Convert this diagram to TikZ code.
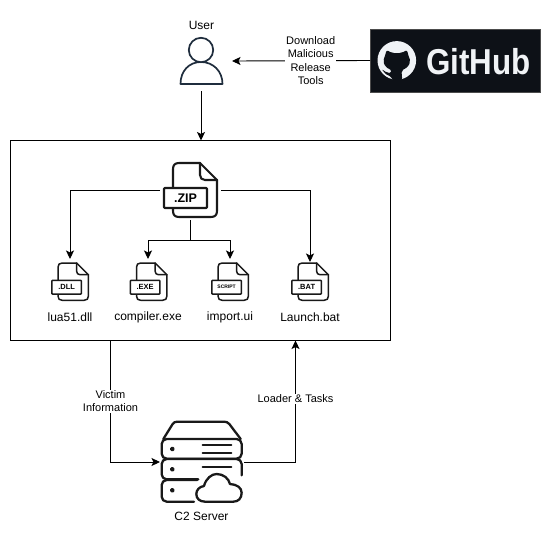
\documentclass[tikz,border=0pt]{standalone}
\usepackage{fontspec}
\setmainfont{Liberation Sans}
\usetikzlibrary{arrows.meta}
\definecolor{ghdark}{HTML}{0D1117}
\definecolor{ghlight}{HTML}{F0F3F6}
\definecolor{usercol}{HTML}{1F2D3D}
\tikzset{
  x=1pt,y=-1pt,
  conn/.style={draw=black,line width=0.9pt,-{Stealth[length=8.5pt,width=8pt,inset=2pt]}},
  lbl/.style={font=\fontsize{12}{14}\selectfont,inner sep=0pt,align=center},
  edgelbl/.style={font=\fontsize{11}{13.4}\selectfont,fill=white,inner sep=1pt,align=center},
  anchorbox/.style={inner sep=0pt,outer sep=0pt},
  iconline/.style={draw=black!90,line join=round,line cap=round},
}
% #1 x, #2 y, #3 scale, #4 line width, #5 label font, #6 label
\newcommand{\fileicon}[6]{%
  \begin{scope}[shift={(#1,#2)},scale=#3]
    \draw[iconline,line width=#4] (0,25) -- (0,6) .. controls (0,2) and (2,0) .. (6,0) -- (27,0) -- (44,17) -- (44,48)
      .. controls (44,52) and (42,54) .. (38,54) -- (6,54) .. controls (2,54) and (0,52) .. (0,48) -- (0,45);
    \draw[iconline,line width=#4] (27,0) -- (27,12) .. controls (27,15) and (29,17) .. (32,17) -- (44,17);
    \draw[iconline,line width=#4,fill=white,rounded corners=0.8pt] (-9,25) rectangle (34,45);
    \node[inner sep=0pt,font=#5] at (12.5,35) {#6};
  \end{scope}}
\begin{document}
\begin{tikzpicture}
\useasboundingbox (0,0) rectangle (551,533);
\fill[white] (0,0) rectangle (551,533);

% container
\node[anchorbox,draw=black,line width=0.9pt,minimum width=380pt,minimum height=200pt] (box) at (200.5,240.5) {};

% invisible named extents of the icons
\node[anchorbox,minimum width=62pt,minimum height=60pt] (user) at (201,61) {};
\node[anchorbox,minimum width=170.5pt,minimum height=63pt,fill=ghdark,draw=black!70!white,line width=0.7pt] (github) at (455.3,60.5) {};
\node[anchorbox,minimum width=61pt,minimum height=60pt] (zip) at (190.5,190) {};
\node[anchorbox,minimum width=36pt,minimum height=42pt,anchor=north] (dll) at (70,259) {};
\node[anchorbox,minimum width=36pt,minimum height=42pt,anchor=north] (exe) at (148,259) {};
\node[anchorbox,minimum width=36pt,minimum height=42pt,anchor=north] (script) at (230,259) {};
\node[anchorbox,minimum width=36pt,minimum height=40pt,anchor=north] (bat) at (310,262) {};
\node[anchorbox,minimum width=84pt,minimum height=84pt] (server) at (202,462) {};

% user
\draw[usercol,line width=1.7pt,line join=round] (180.5,84) .. controls (180.5,71) and (189,62) .. (201,62) .. controls (213,62) and (222.5,71) .. (222.5,84) -- cycle;
\draw[usercol,line width=1.7pt,fill=white] (201,50) circle (12.2);
\node[lbl] (userlbl) at (201.5,25.5) {User};

% github logo
\fill[ghlight] (396.8,60.4) circle (19.3);
\fill[ghdark,rounded corners=2pt] (386.5,50) -- (392,53) -- (401.5,53) -- (407,50) -- (408.5,56) -- (410.5,61) -- (408,67)
  -- (401.5,70.5) -- (402.2,80) -- (391.5,80) -- (391.5,76) -- (387,75.5) -- (381.5,69) -- (387,72.8) -- (391.5,73)
  -- (392,70.5) -- (385.5,67) -- (383,61) -- (385,56) -- cycle;
\node[inner sep=0pt,text=ghlight,font=\fontsize{36}{36}\selectfont\bfseries,xscale=0.87,transform shape] (ghtext) at (478.5,61.5) {GitHub};

% connectors
\draw[conn] (github.west) -- node[edgelbl,pos=0.43] (dlbl) {Download\\Malicious\\Release\\Tools} (user.east);
\draw[conn] (user.south) -- (box.north -| user.south);
\draw[conn] (zip.west) -| (dll.north);
\draw[conn] (zip.east) -| (bat.north);
\coordinate (split) at (zip.south |- 0,240);
\draw[line width=0.9pt] (zip.south) -- (split);
\draw[conn] (split) -| (exe.north);
\draw[conn] (split) -| (script.north);
\coordinate (boxout) at (110.5,340.5);
\coordinate (boxin) at (295.5,340.5);
\draw[conn] (boxout) |- node[edgelbl,pos=0.25] (vlbl) {Victim\\Information} (server.west);
\draw[conn] (server.east) -| node[edgelbl,pos=0.76,fill=white] (llbl) {Loader \& Tasks} (boxin);

% zip and files
\fileicon{173}{163}{1}{2.1pt}{\fontsize{12.5}{12.5}\selectfont\bfseries}{.ZIP}
\fileicon{58}{263}{0.69}{1.5pt}{\fontsize{7.5}{7.5}\selectfont\bfseries}{.DLL}
\fileicon{136.5}{263}{0.69}{1.5pt}{\fontsize{7.5}{7.5}\selectfont\bfseries}{.EXE}
\fileicon{218}{263}{0.69}{1.5pt}{\fontsize{5}{5}\selectfont\bfseries}{SCRIPT}
\fileicon{298}{263}{0.69}{1.5pt}{\fontsize{7.5}{7.5}\selectfont\bfseries}{.BAT}
\node[lbl] (l1) at (70,317) {lua51.dll};
\node[lbl] (l2) at (148,317) {compiler.exe};
\node[lbl] (l3) at (230,317) {import.ui};
\node[lbl] (l4) at (310,317) {Launch.bat};

% server
\begin{scope}[shift={(70,340)},scale=1/3,line cap=round,line join=round]
  \fill[white] (272,245) rectangle (518,490);
  \tikzset{sv/.style={draw=black!90,line width=2.3pt}}
  \draw[sv] (280,297) -- (308,252) .. controls (311,247) and (316,245) .. (322,245) -- (462,245) .. controls (468,245) and (474,247) .. (478,252) -- (512,297);
  \draw[sv,rounded corners=5pt] (275,297) rectangle (515,356);
  \draw[sv,rounded corners=5pt] (515,406) -- (515,357) -- (275,357) -- (275,418) -- (385,418);
  \draw[sv,rounded corners=5pt] (382,420) -- (275,420) -- (275,485) -- (372,485);
  \draw[sv] (307,327) circle (3.9pt);
  \draw[sv] (307,388) circle (3.9pt);
  \draw[sv] (307,451) circle (3.9pt);
  \draw[sv] (398,316) -- (484,316);
  \draw[sv] (398,338) -- (484,338);
  \draw[sv] (398,380) -- (484,380);
  \draw[sv,fill=white] (405,485) .. controls (388,485) and (379,475) .. (379,462)
    .. controls (379,450) and (388,440) .. (402,438)
    .. controls (408,415) and (425,402) .. (440,402)
    .. controls (460,402) and (476,415) .. (480,432)
    .. controls (500,433) and (515,443) .. (515,458)
    .. controls (515,475) and (505,485) .. (490,485) -- cycle;
\end{scope}
\node[lbl] (srvlbl) at (201.5,516.5) {C2 Server};
\end{tikzpicture}
\end{document}
